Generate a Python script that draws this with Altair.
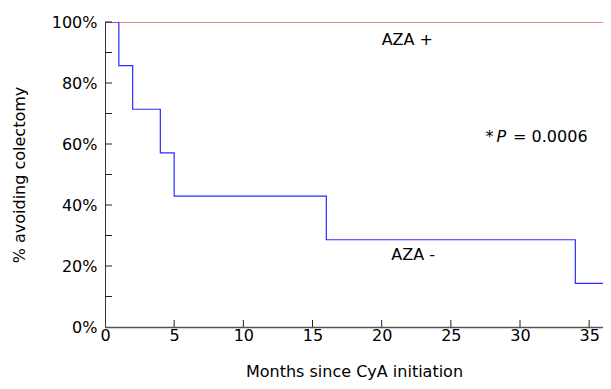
import altair as alt
import pandas as pd

# Kaplan-Meier style data
months_aza_neg = [0, 1, 2, 4, 5, 16, 34, 37]
surv_aza_neg = [1.0, 0.857, 0.714, 0.571, 0.429, 0.286, 0.143, 0.143]
months_aza_pos = [0, 37]
surv_aza_pos = [1.0, 1.0]

x_tick_values = [0, 5, 10, 15, 20, 25, 30, 35]
y_label_values = [0, 0.2, 0.4, 0.6, 0.8, 1.0]
y_tick_values = [0.1, 0.2, 0.3, 0.4, 0.5, 0.6, 0.7, 0.8, 0.9, 1.0]

label_text = ["AZA +", "AZA -"]
label_x = [20.0, 20.7]
label_y = [0.941, 0.237]

p_parts = ["*", "P", "= 0.0006"]
p_x = [27.5, 28.3, 29.5]
p_style = ["normal", "italic", "normal"]
p_y = 0.623

W, H = 498, 305
FONT = "DejaVu Sans"

# plot area spans 0..36.0 months (13.83 px per month)
xs = alt.Scale(domain=[0, 36.0], nice=False, zero=False)
ys = alt.Scale(domain=[0, 1], nice=False)

AX = alt.Axis(values=x_tick_values, ticks=False, grid=False, domainColor="#555555",
              domainWidth=1.3,
              labelFont=FONT, labelFontSize=16, labelColor="black", labelPadding=0,
              title="Months since CyA initiation", titleFont=FONT, titleFontSize=16,
              titleFontWeight="normal", titleColor="black", titlePadding=20,
              labelFlush=False)
AY = alt.Axis(values=y_label_values, format=".0%", ticks=False, grid=False,
              domainColor="#333333", labelFont=FONT, labelFontSize=16,
              labelColor="black", labelPadding=8, title="% avoiding colectomy",
              titleFont=FONT, titleFontSize=16, titleFontWeight="normal",
              titleColor="black", titlePadding=24)


def X():
    return alt.X("m:Q", scale=xs, axis=AX)


def Y():
    return alt.Y("s:Q", scale=ys, axis=AY)


neg = pd.DataFrame({"m": months_aza_neg, "s": surv_aza_neg})
pos = pd.DataFrame({"m": months_aza_pos, "s": surv_aza_pos})

red = alt.Chart(pos).mark_line(color="#ff2a2a", strokeWidth=1.2, clip=True).encode(x=X(), y=Y())
blue = alt.Chart(neg).mark_line(color="#2b2bff", strokeWidth=1.2, interpolate="step-after",
                                clip=True).encode(x=X(), y=Y())

xt = alt.Chart(pd.DataFrame({"m": x_tick_values[1:]})).mark_rule(color="#222222").encode(
    x=X(), y=alt.value(H), y2=alt.value(H - 7)
)
yt = alt.Chart(pd.DataFrame({"s": y_tick_values})).mark_rule(color="#222222").encode(
    y=Y(), x=alt.value(0), x2=alt.value(7)
)

labels = alt.Chart(pd.DataFrame({"t": label_text, "m": label_x, "s": label_y})).mark_text(
    font=FONT, fontSize=16, align="left", baseline="middle", color="black"
).encode(x=X(), y=Y(), text="t:N")

pdf = pd.DataFrame({"t": p_parts, "m": p_x, "s": [p_y] * 3, "st": p_style})
p_normal = alt.Chart(pdf[pdf.st == "normal"]).mark_text(
    font=FONT, fontSize=16, align="left", baseline="middle", color="black"
).encode(x=X(), y=Y(), text="t:N")
p_italic = alt.Chart(pdf[pdf.st == "italic"]).mark_text(
    font=FONT, fontSize=16, align="left", baseline="middle", color="black", fontStyle="italic"
).encode(x=X(), y=Y(), text="t:N")

chart = alt.layer(red, blue, xt, yt, labels, p_normal, p_italic).properties(
    width=W, height=H,
    autosize=alt.AutoSizeParams(type="none"),
    padding={"left": 97, "top": 14, "right": 0, "bottom": 54},
).configure_view(stroke=None).configure(background="white")

chart.save("out.html", embed_options={"renderer": "svg", "actions": False})
